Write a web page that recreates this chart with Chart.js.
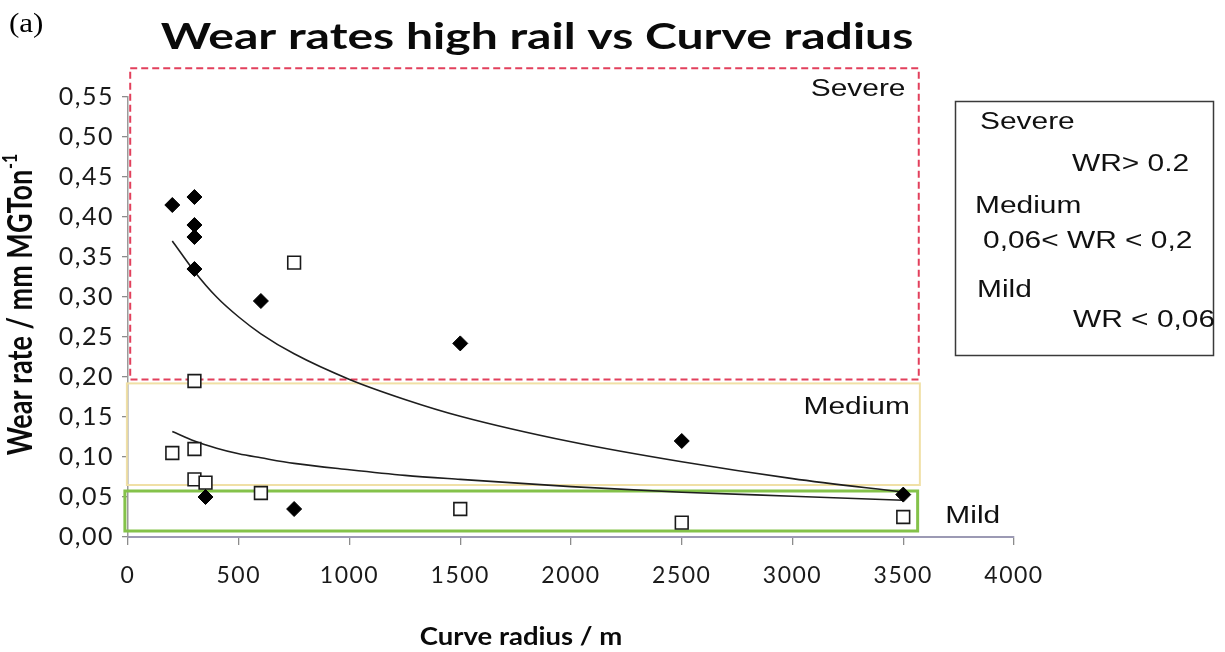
<!DOCTYPE html>
<html>
<head>
<meta charset="utf-8">
<script src="https://cdn.jsdelivr.net/npm/chart.js@4.4.1/dist/chart.umd.min.js"></script>
<style>
  html, body { margin: 0; padding: 0; background: #ffffff; }
  #wrap { width: 1225px; height: 652px; position: relative; }
</style>
</head>
<body>
<div id="wrap"><canvas id="chart" width="1225" height="652"></canvas></div>
<script>
// Measured sites: curve radius (m) and high-rail wear rate (mm/MGTon)
const diamondRadius = [200, 300, 300, 300, 300, 600, 1500, 2500, 350, 750, 3500];
const diamondWear   = [0.415, 0.425, 0.39, 0.375, 0.335, 0.295, 0.242, 0.12, 0.05, 0.035, 0.053];
const squareRadius  = [200, 300, 300, 300, 350, 600, 750, 1500, 2500, 3500];
const squareWear    = [0.105, 0.195, 0.11, 0.072, 0.068, 0.055, 0.343, 0.035, 0.018, 0.025];

// Trend lines, sampled along each fitted curve
const trendRadius = [200, 300, 400, 500, 600, 750, 1000, 1250, 1500, 2000, 2500, 3000, 3500];
const trendUpper  = [0.370, 0.332, 0.300, 0.275, 0.254, 0.229, 0.197, 0.172, 0.151, 0.119, 0.094, 0.073, 0.056];
const trendLower  = [0.132, 0.120, 0.111, 0.104, 0.099, 0.092, 0.084, 0.077, 0.072, 0.063, 0.056, 0.051, 0.046];

// Axis ticks
const xTickValues = [0, 500, 1000, 1500, 2000, 2500, 3000, 3500, 4000];
const yTickValues = [0, 0.05, 0.10, 0.15, 0.20, 0.25, 0.30, 0.35, 0.40, 0.45, 0.50, 0.55];
const yTickLabels = ['0,00', '0,05', '0,10', '0,15', '0,20', '0,25', '0,30', '0,35', '0,40', '0,45', '0,50', '0,55'];

// Wear regimes drawn as boxes, in data units
const regimeNames = ['Severe', 'Medium', 'Mild'];
const regimeXFrom = [10, -5, -14];
const regimeXTo   = [3570, 3575, 3565];
const regimeYFrom = [0.197, 0.065, 0.0075];
const regimeYTo   = [0.586, 0.192, 0.0575];

// Classification key
const keyLines = ['Severe', 'WR> 0.2', 'Medium', '0,06< WR < 0,2', 'Mild', 'WR < 0,06'];

const pairs = (xs, ys) => xs.map((x, i) => ({ x: x, y: ys[i] }));

function wideText(ctx, text, x, y, font, align, color, stretch) {
  ctx.save();
  ctx.letterSpacing = '0px';
  ctx.font = font;
  ctx.fillStyle = color || '#111';
  ctx.textAlign = align;
  ctx.textBaseline = 'middle';
  ctx.translate(x, y);
  ctx.scale(stretch || 1.3, 1);
  ctx.fillText(text, 0, 0);
  ctx.restore();
}

const regimeStyles = [
  { color: '#e2405c', width: 2, dash: [7, 4] },
  { color: '#f0e0a6', width: 2, dash: [] },
  { color: '#84c24a', width: 3, dash: [] }
];

const decorations = {
  id: 'decorations',
  beforeDraw(chart) {
    // slightly wider tick label spacing
    chart.ctx.letterSpacing = '1.5px';
  },
  beforeDatasetsDraw(chart) {
    const ctx = chart.ctx, xs = chart.scales.x, ys = chart.scales.y;
    ctx.letterSpacing = '0px';
    for (let i = regimeNames.length - 1; i >= 0; i--) {
      const st = regimeStyles[i];
      const x0 = xs.getPixelForValue(regimeXFrom[i]);
      const x1 = xs.getPixelForValue(regimeXTo[i]);
      const y0 = ys.getPixelForValue(regimeYFrom[i]);
      const y1 = ys.getPixelForValue(regimeYTo[i]);
      ctx.save();
      ctx.strokeStyle = st.color;
      ctx.lineWidth = st.width;
      ctx.setLineDash(st.dash);
      ctx.strokeRect(x0, y1, x1 - x0, y0 - y1);
      ctx.restore();
    }
  },
  afterDraw(chart) {
    const ctx = chart.ctx, xs = chart.scales.x, ys = chart.scales.y;
    // Regime labels
    const labelFont = '23px "Liberation Sans", Arial, sans-serif';
    wideText(ctx, regimeNames[0], xs.getPixelForValue(3510), ys.getPixelForValue(0.559), labelFont, 'right');
    wideText(ctx, regimeNames[1], xs.getPixelForValue(3530), ys.getPixelForValue(0.162), labelFont, 'right');
    wideText(ctx, regimeNames[2], xs.getPixelForValue(3690), ys.getPixelForValue(0.026), labelFont, 'left');

    // Title and panel letter
    wideText(ctx, 'Wear rates high rail vs Curve radius', 537, 37, 'bold 37px Lato, sans-serif', 'center', '#0a0a0a');
    wideText(ctx, '(a)', 9, 25, '27px "Liberation Serif", serif', 'left', '#000', 1.15);

    // Axis titles
    wideText(ctx, 'Curve radius / m', 521, 637, 'bold 25px Lato, sans-serif', 'center', '#0a0a0a', 1.1);
    ctx.save();
    ctx.letterSpacing = '0px';
    ctx.translate(21, 305);
    ctx.scale(1.25, 1);
    ctx.rotate(-Math.PI / 2);
    ctx.fillStyle = '#0a0a0a';
    ctx.textBaseline = 'middle';
    const mainFont = 'bold 27px Lato, sans-serif', supFont = 'bold 16px Lato, sans-serif';
    const mainText = 'Wear rate / mm MGTon', supText = '-1';
    ctx.font = mainFont; const wMain = ctx.measureText(mainText).width;
    ctx.font = supFont; const wSup = ctx.measureText(supText).width;
    const start = -(wMain + wSup) / 2;
    ctx.font = mainFont; ctx.textAlign = 'left';
    ctx.fillText(mainText, start, 0);
    ctx.font = supFont;
    ctx.fillText(supText, start + wMain + 1, -8);
    ctx.restore();

    // Classification key box
    ctx.save();
    ctx.strokeStyle = '#3a3a3a';
    ctx.lineWidth = 1.5;
    ctx.strokeRect(955.5, 101.5, 258, 254);
    ctx.restore();
    const keyFont = '23px "Liberation Sans", Arial, sans-serif';
    const keyX = [980, 1072, 975, 983, 977, 1073];
    const keyY = [123, 165, 207, 242, 291, 321];
    keyLines.forEach((t, i) => wideText(ctx, t, keyX[i], keyY[i], keyFont, 'left'));
  }
};

new Chart(document.getElementById('chart'), {
  type: 'scatter',
  data: {
    datasets: [
      {
        label: 'Diamonds',
        data: pairs(diamondRadius, diamondWear),
        pointStyle: 'rectRot',
        pointRadius: 7.5,
        pointHoverRadius: 7.5,
        backgroundColor: '#000',
        borderColor: '#000',
        borderWidth: 1
      },
      {
        label: 'Squares',
        data: pairs(squareRadius, squareWear),
        pointStyle: 'rect',
        pointRadius: 9,
        pointHoverRadius: 9,
        backgroundColor: '#fff',
        borderColor: '#1a1a1a',
        borderWidth: 1.6
      },
      {
        label: 'Trend upper',
        data: pairs(trendRadius, trendUpper),
        showLine: true,
        pointRadius: 0,
        borderColor: '#1e1e1e',
        borderWidth: 1.6,
        cubicInterpolationMode: 'monotone',
        fill: false
      },
      {
        label: 'Trend lower',
        data: pairs(trendRadius, trendLower),
        showLine: true,
        pointRadius: 0,
        borderColor: '#1e1e1e',
        borderWidth: 1.6,
        cubicInterpolationMode: 'monotone',
        fill: false
      }
    ]
  },
  options: {
    responsive: false,
    animation: false,
    layout: { padding: { left: 0, top: 97, right: 211, bottom: 0 } },
    plugins: { legend: { display: false }, tooltip: { enabled: false }, title: { display: false } },
    scales: {
      x: {
        type: 'linear',
        min: 0,
        max: 4000,
        afterBuildTicks: s => { s.ticks = xTickValues.map(v => ({ value: v })); },
        afterFit: s => { s.height = 115; },
        ticks: { font: { family: 'Lato', size: 23 }, color: '#1a1a1a', padding: 17, maxRotation: 0, autoSkip: false, callback: v => String(v) },
        grid: { drawOnChartArea: false, drawTicks: true, tickLength: 8, color: '#8c8c8c', lineWidth: 1.3 },
        border: { display: true, color: '#9c9ab4', width: 2 }
      },
      y: {
        type: 'linear',
        min: 0,
        max: 0.55,
        afterBuildTicks: s => { s.ticks = yTickValues.map(v => ({ value: v })); },
        afterFit: s => { s.width = 128; },
        ticks: { font: { family: 'Lato', size: 25 }, color: '#1a1a1a', padding: 8, autoSkip: false, callback: (v, i) => yTickLabels[i] },
        grid: { drawOnChartArea: false, drawTicks: true, tickLength: 6, color: '#8c8c8c', lineWidth: 1.3 },
        border: { display: true, color: '#9a9a9a', width: 1.5 }
      }
    }
  },
  plugins: [decorations]
});
</script>
</body>
</html>
